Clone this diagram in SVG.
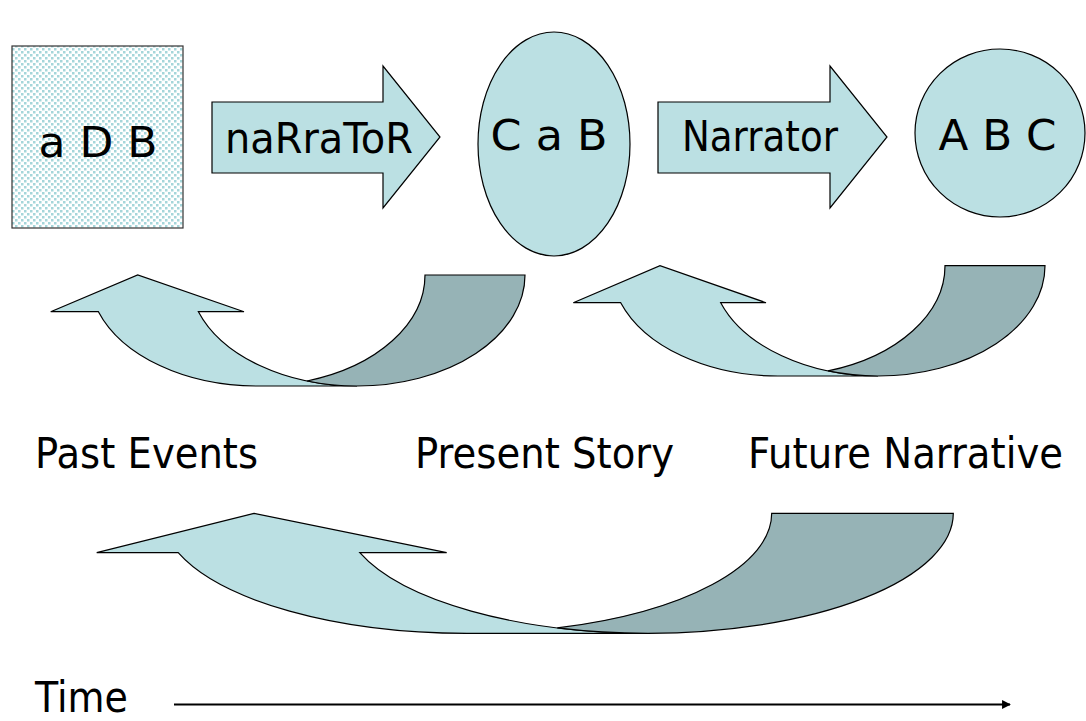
<svg xmlns="http://www.w3.org/2000/svg" width="1086" height="721" viewBox="0 0 1086 721">
  <defs>
    <style>
      .lbl { font-family: "DejaVu Sans", "Liberation Sans", sans-serif; font-size: 42px; fill: #000; }
      .light { fill: #BBE0E3; stroke: #000; stroke-width: 1.2; stroke-linejoin: miter; }
      .dark { fill: #96B3B6; stroke: #000; stroke-width: 1.2; }
    </style>
    <!-- fine dotted fill for the square -->
    <pattern id="dots" width="6" height="6" patternUnits="userSpaceOnUse">
      <rect width="6" height="6" fill="#fff"/>
      <rect x="0" y="0" width="2.5" height="2.5" fill="#A5D6DA"/>
      <rect x="3" y="3" width="2.5" height="2.5" fill="#A5D6DA"/>
    </pattern>
    <marker id="tip" viewBox="0 0 10 10" refX="9" refY="5" markerWidth="4" markerHeight="4" orient="auto" markerUnits="strokeWidth">
      <path d="M0,0 L10,5 L0,10 Z" fill="#000"/>
    </marker>
  </defs>

  <rect width="1086" height="721" fill="#fff"/>

  <!-- nodes -->
  <g id="node-adb">
    <rect x="12" y="46" width="171" height="182" fill="url(#dots)" stroke="#333" stroke-width="1.2"/>
    <text class="lbl" x="98" y="157" text-anchor="middle" textLength="119" lengthAdjust="spacingAndGlyphs">a D B</text>
  </g>
  <g id="node-cab">
    <ellipse cx="554" cy="144" rx="76" ry="112" class="light"/>
    <text class="lbl" x="549" y="150" text-anchor="middle" textLength="117" lengthAdjust="spacingAndGlyphs">C a B</text>
  </g>
  <g id="node-abc">
    <ellipse cx="1000" cy="133" rx="85" ry="84" class="light"/>
    <text class="lbl" x="997.5" y="150" text-anchor="middle" textLength="118" lengthAdjust="spacingAndGlyphs">A B C</text>
  </g>

  <!-- connectors -->
  <g id="connectors">
    <!-- block arrows -->
    <g id="arrow-narrator-1">
      <path class="light" d="M212,102 H383 V66 L440,137 L383,208 V173 H212 Z"/>
      <text class="lbl" x="225" y="153" font-size="40" textLength="188" lengthAdjust="spacingAndGlyphs">naRraToR</text>
    </g>
    <g id="arrow-narrator-2">
      <path class="light" d="M658,102 H830 V66 L887,137 L830,208 V173 H658 Z"/>
      <text class="lbl" x="682" y="151" font-size="40" textLength="156" lengthAdjust="spacingAndGlyphs">Narrator</text>
    </g>

    <!-- curved return arrows: two equal ellipses offset by the band width -->
    <g id="curve-1">
      <path class="light" d="M98.4,311.7 L50.7,311.7 L137.7,275 L244,311.7 L198.4,311.7 A168 111 0 0 0 357,386 L257,386 A168 111 0 0 1 98.4,311.7 Z"/>
      <path class="dark" d="M425,275 L525,275 A168 111 0 0 1 357,386 A168 111 0 0 1 307,381 A168 111 0 0 0 425,275 Z"/>
    </g>
    <g id="curve-2">
      <path class="light" d="M620.7,302.7 L573.3,302.7 L660,265.7 L766,302.7 L720.7,302.7 A167 110.3 0 0 0 878,376 L778,376 A167 110.3 0 0 1 620.7,302.7 Z"/>
      <path class="dark" d="M945,265.7 L1045,265.7 A167 110.3 0 0 1 878,376 A167 110.3 0 0 1 828,370.9 A167 110.3 0 0 0 945,265.7 Z"/>
    </g>
    <g id="curve-3">
      <path class="light" d="M178.2,552.7 L96.7,552.7 L254,513.3 L446.7,552.7 L359.8,552.7 A305.2 120 0 0 0 648.1,633.3 L466.5,633.3 A305.2 120 0 0 1 178.2,552.7 Z"/>
      <path class="dark" d="M771.7,513.3 L953.3,513.3 A305.2 120 0 0 1 648.1,633.3 A305.2 120 0 0 1 557.3,627.9 A305.2 120 0 0 0 771.7,513.3 Z"/>
    </g>

    <!-- time axis -->
    <g id="time-axis">
      <line x1="174" y1="704.5" x2="1010" y2="704.5" stroke="#000" stroke-width="2.2" marker-end="url(#tip)"/>
    </g>
  </g>

  <!-- period labels -->
  <g id="labels">
    <text class="lbl" x="35" y="468" textLength="223" lengthAdjust="spacingAndGlyphs">Past Events</text>
    <text class="lbl" x="415" y="468" textLength="259" lengthAdjust="spacingAndGlyphs">Present Story</text>
    <text class="lbl" x="748" y="468" font-size="38" textLength="315" lengthAdjust="spacingAndGlyphs">Future Narrative</text>
    <text class="lbl" x="35" y="711.5" font-size="40" textLength="93" lengthAdjust="spacingAndGlyphs">Time</text>
  </g>
</svg>
